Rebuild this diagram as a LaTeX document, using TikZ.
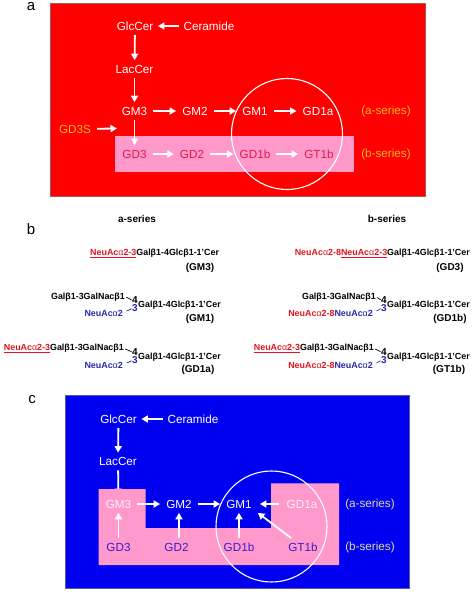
\documentclass[tikz,border=0pt]{standalone}
\usepackage{fontspec}
\setmainfont{Liberation Sans}
\usetikzlibrary{arrows.meta,backgrounds}
\definecolor{pinkbox}{RGB}{255,153,204}
\definecolor{redpanel}{RGB}{255,0,0}
\definecolor{bluepanel}{RGB}{0,0,240}
\definecolor{amber}{RGB}{255,185,30}
\definecolor{sand}{RGB}{222,222,170}
\definecolor{crimson}{RGB}{225,25,75}
\definecolor{violet}{RGB}{60,30,200}
\definecolor{neured}{RGB}{225,20,30}
\definecolor{neublue}{RGB}{40,40,170}
\newcommand{\alphathin}{{\mdseries α}}
\newcommand{\galcer}{Galβ1-4Glcβ1-1'Cer}
\newcommand{\galnac}{Galβ1-3GalNacβ1}
\newcommand{\neuthree}{\textcolor{neured}{\underline{NeuAc\alphathin2-3}}}
\newcommand{\neueight}{\textcolor{neured}{NeuAc\alphathin2-8}}
\newcommand{\neutwo}{\textcolor{neublue}{NeuAc\alphathin2}}
\begin{document}
\begin{tikzpicture}[x=1pt,y=-1pt,
    lipid/.style={text=white, font=\fontsize{11.7}{13}\selectfont, inner xsep=6pt, inner ysep=4.5pt},
    lipidb/.style={lipid, text=crimson},
    lipidc/.style={lipid, text=violet},
    lipidp/.style={lipid, text=white!85!pinkbox},
    series/.style={lipid, text=amber},
    seriesc/.style={lipid, text=sand},
    panellabel/.style={font=\fontsize{15}{16}\selectfont, inner sep=0pt},
    flow/.style={draw=white, line width=1.8pt, -{Triangle[length=6.5pt,width=7pt]}},
    ring/.style={draw=white, line width=1.1pt, circle, minimum size=111pt, inner sep=0pt},
    sugar/.style={font=\fontsize{8.9}{10}\bfseries\selectfont, inner sep=0pt},
    sugarname/.style={sugar, font=\fontsize{10}{11}\bfseries\selectfont},
    sugarhead/.style={sugar, font=\fontsize{10}{11}\bfseries\selectfont},
    tick/.style={line width=0.7pt, shorten <=1.5pt, shorten >=0.5pt}
]
\useasboundingbox (0,0) rectangle (474,592);

% panel a
\node[panellabel] (la) at (31,7) {a};
\node[lipid,inner xsep=4.5pt] (aglc) at (135,26) {GlcCer};
\node[lipid,inner xsep=4.5pt] (acer) at (209,26) {Ceramide};
\node[lipid] (alac) at (134.5,69) {LacCer};
\node[lipid] (agm3) at (134.5,111) {GM3};
\node[lipid] (agm2) at (195,111) {GM2};
\node[lipid] (agm1) at (255,111) {GM1};
\node[lipid] (agd1a) at (318,111) {GD1a};
\node[series] (aas) at (386,111) {(a-series)};
\node[lipid,text=amber] (agd3s) at (75,129) {GD3S};
\coordinate (agd3send) at (117,128.5);
\node[lipidb] (agd3) at (134.5,154) {GD3};
\node[lipidb] (agd2) at (192,154) {GD2};
\node[lipidb] (agd1b) at (255,154) {GD1b};
\node[lipidb] (agt1b) at (319,154) {GT1b};
\node[series] (abs) at (386,154) {(b-series)};

\begin{scope}[on background layer]
\draw[fill=redpanel, draw=gray!70!red, line width=0.6pt] (50,3) rectangle (425,196);
\fill[pinkbox] (114.5,136) rectangle (354,172);
\end{scope}

\draw[flow] (acer) -- (aglc);
\draw[flow] (aglc) -- (alac);
\draw[flow] (alac) -- (agm3);
\draw[flow] (agm3) -- (agd3);
\draw[flow] (agd3s) -- (agd3send);
\foreach \i/\j in {gm3/gm2,gm2/gm1,gm1/gd1a,gd3/gd2,gd2/gd1b,gd1b/gt1b} {
  \draw[flow] (a\i) -- (a\j);
}
\node[ring] (aring) at (287,134) {};

% panel b
\node[panellabel] (lb) at (31,229) {b};
\node[sugarhead] (ahead) at (137,218.7) {a-series};
\node[sugarhead] (bhead) at (387,218.7) {b-series};

% a-series, left column
\node[sugar,anchor=base west] (s1) at (90,255.5) {\neuthree\galcer};
\node[sugarname] (n1) at (200,268) {(GM3)};

\node[sugar,anchor=base east] (s2t) at (125,299) {\galnac};
\node[sugar,anchor=base east] (s2b) at (123,316) {\neutwo};
\node[sugarname] (s2f) at (135,300) {4};
\node[sugarname,text=neublue] (s2h) at (135,308.5) {3};
\node[sugar,anchor=base west] (s2g) at (138,307) {\galcer};
\node[sugarname] (n2) at (200,319) {(GM1)};
\draw[tick] (s2t.east) -- (s2f.west);
\draw[tick,draw=neublue,shorten <=4pt] (s2b.east) -- (s2h.west);

\node[sugar,anchor=base east] (s3t) at (124,350.5) {\neuthree\galnac};
\node[sugar,anchor=base east] (s3b) at (123,368) {\neutwo};
\node[sugarname] (s3f) at (135,352) {4};
\node[sugarname,text=neublue] (s3h) at (135,360.5) {3};
\node[sugar,anchor=base west] (s3g) at (138,359) {\galcer};
\node[sugarname] (n3) at (198,370) {(GD1a)};
\draw[tick] (s3t.east) -- (s3f.west);
\draw[tick,draw=neublue,shorten <=4pt] (s3b.east) -- (s3h.west);

% b-series, right column
\node[sugar,anchor=base east] (s4) at (470,255.5) {\neueight\neuthree\galcer};
\node[sugarname] (n4) at (450,268) {(GD3)};

\node[sugar,anchor=base east] (s5t) at (376,299) {\galnac};
\node[sugar,anchor=base east] (s5b) at (373,316) {\neueight\neutwo};
\node[sugarname] (s5f) at (384,300) {4};
\node[sugarname,text=neublue] (s5h) at (384,308.5) {3};
\node[sugar,anchor=base east] (s5g) at (470,307) {\galcer};
\node[sugarname] (n5) at (450,319) {(GD1b)};
\draw[tick] (s5t.east) -- (s5f.west);
\draw[tick,draw=neublue,shorten <=4pt] (s5b.east) -- (s5h.west);

\node[sugar,anchor=base east] (s6t) at (374,350.5) {\neuthree\galnac};
\node[sugar,anchor=base east] (s6b) at (373,368) {\neueight\neutwo};
\node[sugarname] (s6f) at (384,352) {4};
\node[sugarname,text=neublue] (s6h) at (384,360.5) {3};
\node[sugar,anchor=base east] (s6g) at (470,359) {\galcer};
\node[sugarname] (n6) at (449,370) {(GT1b)};
\draw[tick] (s6t.east) -- (s6f.west);
\draw[tick,draw=neublue,shorten <=4pt] (s6b.east) -- (s6h.west);

% panel c
\node[panellabel] (lc) at (32,400) {c};
\node[lipid,inner xsep=4.5pt] (cglc) at (118.5,419) {GlcCer};
\node[lipid,inner xsep=4.5pt] (ccer) at (193,419) {Ceramide};
\node[lipid] (clac) at (118,461.5) {LacCer};
\node[lipidp] (cgm3) at (118.5,504) {GM3};
\node[lipid] (cgm2) at (179,504) {GM2};
\node[lipid] (cgm1) at (239,504) {GM1};
\node[lipidp] (cgd1a) at (302,504) {GD1a};
\node[seriesc] (cas) at (370,504) {(a-series)};
\node[lipidc] (cgd3) at (118.5,547) {GD3};
\node[lipidc] (cgd2) at (176.5,547) {GD2};
\node[lipidc] (cgd1b) at (239,547) {GD1b};
\node[lipidc] (cgt1b) at (303,547) {GT1b};
\node[seriesc] (cbs) at (370,547) {(b-series)};

\begin{scope}[on background layer]
\draw[fill=bluepanel, draw=gray!70!blue, line width=0.6pt] (65.5,395) rectangle (409,588.7);
\draw[flow] (clac) -- (cgm3);
\fill[pinkbox] (98.5,489) -- (145.5,489) -- (145.5,528) -- (271,528) -- (271,483.3)
  -- (339,483.3) -- (339,565) -- (98.5,565) -- cycle;
\end{scope}

\draw[flow] (ccer) -- (cglc);
\draw[flow] (cglc) -- (clac);
\foreach \i/\j in {gm3/gm2,gm2/gm1,gd3/gm3,gd1b/gm1} {
  \draw[flow] (c\i) -- (c\j);
}
\draw[flow,shorten <=2pt,shorten >=2pt] (cgd1a) -- (cgm1);
\draw[flow] (cgd2.north -| cgm2) -- (cgm2);
\draw[flow] (cgt1b) -- (cgm1.south east);
\node[ring] (cring) at (271.5,526.5) {};
\end{tikzpicture}
\end{document}
